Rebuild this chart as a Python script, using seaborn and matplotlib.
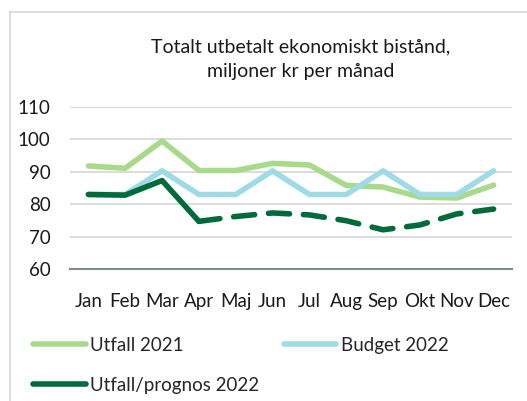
import matplotlib
matplotlib.use("Agg")
import matplotlib.pyplot as plt
import seaborn as sns
import pandas as pd
from matplotlib.lines import Line2D

months = ['Jan', 'Feb', 'Mar', 'Apr', 'Maj', 'Jun', 'Jul', 'Aug', 'Sep', 'Okt', 'Nov', 'Dec']
utfall_2021 = [91.8, 91.1, 99.5, 90.4, 90.4, 92.6, 92.1, 85.8, 85.3, 82.2, 81.9, 85.9]
budget_2022 = [83.0, 83.0, 90.3, 83.0, 83.0, 90.3, 83.0, 83.0, 90.3, 83.0, 83.0, 90.3]
utfall_prognos_2022 = [83.0, 82.8, 87.3, 74.7, 76.2, 77.3, 76.7, 74.9, 72.1, 73.6, 77.0, 78.5]
n_actual = 4  # Jan-Apr is utfall, rest is prognos

c_2021 = '#a9da8c'
c_budget = '#9edbe7'
c_2022 = '#006b3a'

sns.set_theme(style='white')
plt.rcParams['font.family'] = ['Lato', 'DejaVu Sans']

fig = plt.figure(figsize=(5.27, 4.01), dpi=100)
ax = fig.add_axes([70 / 527, 1 - 269 / 401, 442 / 527, 162 / 401])

df = pd.DataFrame({'month': months, 'u2021': utfall_2021, 'budget': budget_2022, 'u2022': utfall_prognos_2022})

sns.lineplot(data=df, x='month', y='u2021', ax=ax, color=c_2021, lw=4, solid_capstyle='round', sort=False)
sns.lineplot(data=df, x='month', y='budget', ax=ax, color=c_budget, lw=4, solid_capstyle='round', sort=False)
sns.lineplot(data=df.iloc[:n_actual], x='month', y='u2022', ax=ax, color=c_2022, lw=4,
             solid_capstyle='round', sort=False)
sns.lineplot(data=df.iloc[n_actual - 1:], x='month', y='u2022', ax=ax, color=c_2022, lw=4,
             linestyle=(0, (3.8, 2.5)), dash_capstyle='round', sort=False)

ax.set_ylim(60, 110)
ax.set_yticks(range(60, 111, 10))
ax.set_xlim(-0.5, 11.5)
ax.grid(axis='y', color='#d9d9d9', lw=1.3)
ax.set_axisbelow(True)
for s in ['top', 'right', 'left']:
    ax.spines[s].set_visible(False)
ax.spines['bottom'].set_color('#7f8c87')
ax.spines['bottom'].set_linewidth(1.5)
ax.set_xlabel('')
ax.set_ylabel('')
ax.tick_params(axis='both', length=0, labelsize=13.5, colors='#1a1a1a')
ax.tick_params(axis='x', pad=17)
ax.tick_params(axis='y', pad=14)

fig.text(301 / 527, 1 - 59 / 401, 'Totalt utbetalt ekonomiskt bistånd,\nmiljoner kr per månad',
         ha='center', va='center', fontsize=14, color='#1a1a1a', linespacing=1.5)

handles = [Line2D([], [], color=c_2021, lw=4, solid_capstyle='round'),
           Line2D([], [], color=c_2022, lw=4, solid_capstyle='round'),
           Line2D([], [], color=c_budget, lw=4, solid_capstyle='round')]
labels = ['Utfall 2021', 'Utfall/prognos 2022', 'Budget 2022']
fig.legend(handles, labels, ncol=2, loc='upper left', bbox_to_anchor=(33 / 527, 1 - 337 / 401),
           frameon=False, fontsize=13.5, handlelength=2.8, handletextpad=0.25, columnspacing=1.3,
           labelspacing=1.2, borderaxespad=0, borderpad=0)

# outer chart frame (partly cut off at the right and bottom)
fig.add_artist(Line2D([9.5 / 527, 9.5 / 527], [0, 1 - 12 / 401], color='#d9d9d9', lw=1.3))
fig.add_artist(Line2D([9.5 / 527, 1], [1 - 12 / 401, 1 - 12 / 401], color='#d9d9d9', lw=1.3))

fig.savefig('out.png', dpi=100)
